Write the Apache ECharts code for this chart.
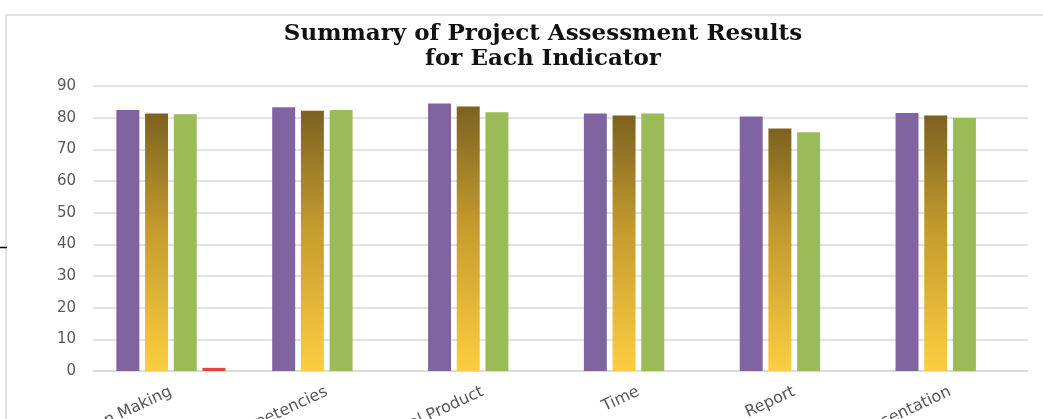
<!DOCTYPE html>
<html>
<head>
<meta charset="utf-8">
<script src="https://cdn.jsdelivr.net/npm/echarts@6/dist/echarts.min.js"></script>
<style>
  html, body { margin: 0; padding: 0; background: #fff; }
  #main { width: 1043px; height: 419px; }
</style>
</head>
<body>
<div id="main"></div>
<script>
// indicators (labels cut off at the bottom in the source image)
var categories = ['Decision Making', 'Competencies', 'Final Product', 'Time', 'Report', 'Presentation'];
// four series, no legend shown in the original
var seriesA = [82.4, 83.3, 84.5, 81.3, 80.4, 81.5];
var seriesB = [81.3, 82.2, 83.5, 80.7, 76.6, 80.7];
var seriesC = [81.1, 82.4, 81.7, 81.3, 75.4, 79.9];
var seriesD = [1, null, null, null, null, null];
var yTicks = [0, 10, 20, 30, 40, 50, 60, 70, 80, 90];

var myChart = echarts.init(document.getElementById('main'));

var goldGrad = new echarts.graphic.LinearGradient(0, 0, 0, 1, [
    { offset: 0, color: '#7c6220' },
    { offset: 0.45, color: '#c49b2e' },
    { offset: 1, color: '#fdcd40' }
]);

var option = {
    animation: false,
    title: {
        text: 'Summary of Project Assessment Results\nfor Each Indicator',
        left: 538,
        top: 17,
        textAlign: 'center',
        textStyle: {
            fontFamily: 'DejaVu Serif',
            fontWeight: 'bold',
            fontSize: 23,
            lineHeight: 25,
            color: '#111'
        }
    },
    graphic: [
        // outer frame of the excel chart area
        { type: 'polyline', shape: { points: [[6, 419], [6, 15], [1043, 15]] },
          style: { stroke: '#d9d9d9', lineWidth: 1.5, fill: null } },
        // stray mark on the left
        { type: 'line', shape: { x1: 0, y1: 247.5, x2: 7, y2: 247.5 },
          style: { stroke: '#000', lineWidth: 1.5 } }
    ],
    grid: {
        left: 93,
        right: 15,
        top: 86,
        bottom: 48,
        outerBoundsMode: 'none'
    },
    xAxis: {
        type: 'category',
        data: categories,
        axisTick: { show: false },
        axisLine: { lineStyle: { color: '#d9d9d9', width: 1.5 } },
        axisLabel: {
            rotate: 25,
            margin: 20,
            interval: 0,
            color: '#595959',
            fontFamily: 'DejaVu Sans',
            fontSize: 16
        }
    },
    yAxis: {
        type: 'value',
        min: yTicks[0],
        max: yTicks[yTicks.length - 1],
        interval: 10,
        axisLine: { show: false },
        axisTick: { show: false },
        axisLabel: {
            margin: 17,
            color: '#595959',
            fontFamily: 'DejaVu Sans',
            fontSize: 15
        },
        splitLine: { lineStyle: { color: '#d9d9d9', width: 1.5 } }
    },
    series: [
        { name: 'A', type: 'bar', data: seriesA, barGap: '25%', barCategoryGap: '30%',
          itemStyle: { color: '#8064a2' } },
        { name: 'B', type: 'bar', data: seriesB,
          itemStyle: { color: goldGrad } },
        { name: 'C', type: 'bar', data: seriesC,
          itemStyle: { color: '#9bbb59' } },
        { name: 'D', type: 'bar', data: seriesD,
          itemStyle: { color: '#e8423f' } }
    ]
};
myChart.setOption(option);
</script>
</body>
</html>
